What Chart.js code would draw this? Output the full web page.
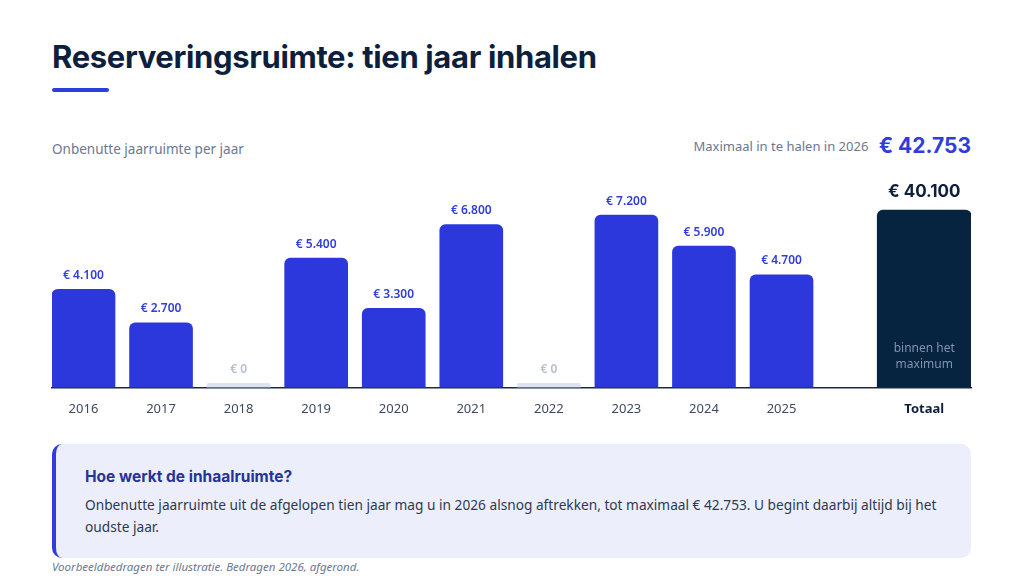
<!DOCTYPE html>
<html lang="nl">
<head>
<meta charset="utf-8">
<script src="https://cdn.jsdelivr.net/npm/chart.js@4/dist/chart.umd.min.js"></script>
<style>
  html, body { margin: 0; padding: 0; background: #fff; }
  body { width: 1024px; height: 580px; position: relative; overflow: hidden; font-family: "Noto Sans", sans-serif; }
  h1 { position: absolute; left: 52px; top: 38px; margin: 0; font-family: Inter, sans-serif; font-weight: 700; font-size: 31px; letter-spacing: -0.35px; color: #0e1f3d; }
  .rule { position: absolute; left: 52px; top: 88px; width: 57px; height: 4px; border-radius: 2px; background: #2f3ddc; }
  .sub { position: absolute; left: 52px; top: 140px; font-size: 13.5px; color: #6b7890; }
  .max { position: absolute; right: 53px; top: 133px; font-size: 13px; color: #6b7890; }
  .max b { font-family: Inter, sans-serif; font-weight: 700; font-size: 21px; color: #2f3ddc; margin-left: 7px; vertical-align: -2px; }
  #wrap { position: absolute; left: 40px; top: 160px; width: 944px; height: 271px; }
  .box { position: absolute; left: 52px; top: 444px; width: 919px; height: 114px; box-sizing: border-box; background: #eceffb; border-radius: 10px; border-left: 4px solid #2f3ddc; padding: 23px 12px 0 29px; }
  .box h2 { margin: 0 0 8px 0; font-family: Inter, sans-serif; font-weight: 700; font-size: 15.5px; color: #26339a; }
  .box p { margin: 0; font-size: 13.7px; line-height: 22px; color: #2d3a50; }
  .note { position: absolute; left: 52px; top: 559px; font-size: 11.5px; font-style: italic; color: #6b7890; }
</style>
</head>
<body>
<h1>Reserveringsruimte: tien jaar inhalen</h1>
<div class="rule"></div>
<div class="sub">Onbenutte jaarruimte per jaar</div>
<div class="max">Maximaal in te halen in 2026 <b>€ 42.753</b></div>
<div id="wrap"><canvas id="chart"></canvas></div>
<div class="box">
  <h2>Hoe werkt de inhaalruimte?</h2>
  <p>Onbenutte jaarruimte uit de afgelopen tien jaar mag u in 2026 alsnog aftrekken, tot maximaal € 42.753. U begint daarbij altijd bij het oudste jaar.</p>
</div>
<div class="note">Voorbeeldbedragen ter illustratie. Bedragen 2026, afgerond.</div>
<script>
var years = ["2016", "2017", "2018", "2019", "2020", "2021", "2022", "2023", "2024", "2025"];
var amounts = [4100, 2700, 0, 5400, 3300, 6800, 0, 7200, 5900, 4700];
var totalLabel = "Totaal";
var totalAmount = 40100;
var totalPos = 10.84;

function euro(v) {
    return "€ " + v.toLocaleString("nl-NL");
}

var yearPoints = amounts.map(function (v, i) { return { x: i, y: v }; });
var tickPos = years.map(function (y, i) { return i; }).concat([totalPos]);
var tickText = years.concat([totalLabel]);

var labelPlugin = {
    id: "valueLabels",
    afterDatasetsDraw: function (chart) {
        var ctx = chart.ctx;
        ctx.save();
        ctx.textAlign = "center";
        ctx.textBaseline = "middle";
        chart.getDatasetMeta(0).data.forEach(function (bar, i) {
            var v = amounts[i];
            ctx.font = "600 12px 'Noto Sans'";
            ctx.fillStyle = v === 0 ? "#b5bdd0" : "#2f3ddc";
            ctx.fillText(euro(v), bar.x, bar.y - 14);
        });
        var t = chart.getDatasetMeta(1).data[0];
        ctx.font = "700 17px Inter";
        ctx.fillStyle = "#0e1f3d";
        ctx.fillText(euro(totalAmount), t.x, t.y - 18);
        ctx.font = "12px 'Noto Sans'";
        ctx.fillStyle = "#8193ae";
        var base = chart.scales.y.getPixelForValue(0);
        ctx.fillText("binnen het", t.x, base - 39);
        ctx.fillText("maximum", t.x, base - 23);
        ctx.restore();
    }
};

new Chart(document.getElementById("chart").getContext("2d"), {
    type: "bar",
    data: {
        datasets: [{
            data: yearPoints,
            yAxisID: "y",
            barThickness: 63,
            minBarLength: 4,
            borderRadius: 6,
            backgroundColor: function (c) {
                return c.raw && c.raw.y === 0 ? "#dde3f0" : "#2c38dc";
            }
        }, {
            data: [{ x: totalPos, y: totalAmount }],
            yAxisID: "y2",
            barThickness: 94,
            borderRadius: 6,
            backgroundColor: "#06233f"
        }]
    },
    options: {
        responsive: true,
        maintainAspectRatio: false,
        animation: false,
        grouped: false,
        layout: { padding: { left: 12, right: 13, top: 12, bottom: 0 } },
        plugins: { legend: { display: false }, tooltip: { enabled: false } },
        scales: {
            x: {
                type: "linear",
                offset: false,
                min: -0.406,
                max: 11.443,
                afterBuildTicks: function (axis) {
                    axis.ticks = tickPos.map(function (p) { return { value: p }; });
                },
                grid: { display: false, drawTicks: false },
                border: { display: true, color: "#1d2b45", width: 1.5 },
                ticks: {
                    padding: 14,
                    autoSkip: false,
                    maxRotation: 0,
                    callback: function (val, i) { return tickText[i]; },
                    color: function (c) { return c.index === tickText.length - 1 ? "#0e1f3d" : "#3d4a60"; },
                    font: function (c) {
                        return c.index === tickText.length - 1
                            ? { family: "'Noto Sans'", size: 13, weight: "700" }
                            : { family: "'Noto Sans'", size: 13 };
                    }
                }
            },
            y: { display: false, min: 0, max: 9000 },
            y2: { display: false, min: 0, max: 48700 }
        }
    },
    plugins: [labelPlugin]
});
</script>
</body>
</html>
